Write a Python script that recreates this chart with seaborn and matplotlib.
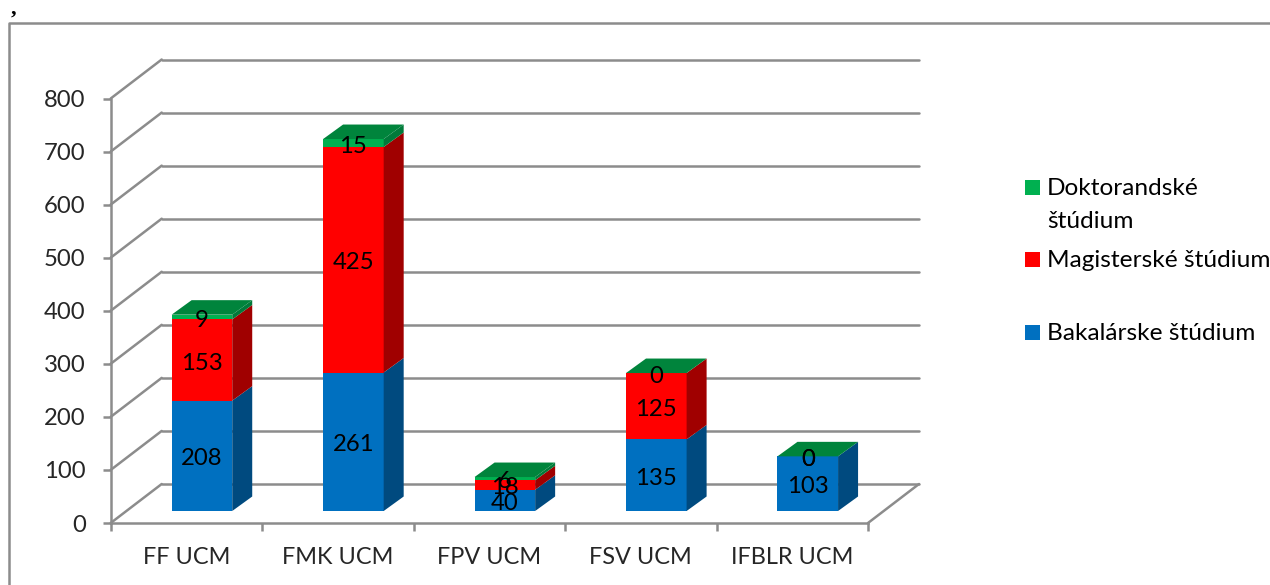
import matplotlib
matplotlib.use("Agg")
import matplotlib.pyplot as plt
from matplotlib.lines import Line2D
from matplotlib.patches import Rectangle
from matplotlib.transforms import ScaledTranslation
import numpy as np
import seaborn as sns

categories = ["FF UCM", "FMK UCM", "FPV UCM", "FSV UCM", "IFBLR UCM"]
bakalarske = [208, 261, 40, 135, 103]
magisterske = [153, 425, 18, 125, 0]
doktorandske = [9, 15, 6, 0, 0]
y_ticks = [0, 100, 200, 300, 400, 500, 600, 700, 800]
legend_labels = ["Doktorandské\nštúdium", "Magisterské štúdium", "Bakalárske štúdium"]

W, H = 1270, 585
GREY = "#8c8c8c"
BLUE, RED, GREEN = "#0070c0", "#ff0000", "#00b050"
BLUE_SIDE, RED_SIDE, GREEN_SIDE, GREEN_TOP = "#004a7f", "#a00000", "#007a3a", "#00843c"
FS = 17.2
LW = 1.8

sns.set_style("white")
plt.rcParams["font.family"] = ["Lato", "DejaVu Sans"]

fig = plt.figure(figsize=(W / 100, H / 100), dpi=100, facecolor="white")
# axis box in pixels of the picture
left, right, top, bottom = 110.7, 868, 98.5, 523
ax = fig.add_axes([left / W, 1 - bottom / H, (right - left) / W, (bottom - top) / H])
ax.patch.set_alpha(0)


def shifted(px, py):
    return ax.transData + ScaledTranslation(px / 100, py / 100, fig.dpi_scale_trans)


px_x = 5 / (right - left)
px_y = 800 / (bottom - top)

blue = np.array(bakalarske)
red = blue + np.array(magisterske)
green = red + np.array(doktorandske)

# stacked front faces, tallest first
bar_tf = shifted(15.5, 12)
for totals, color in [(green, GREEN), (red, RED), (blue, BLUE)]:
    sns.barplot(x=categories, y=totals, color=color, saturation=1, width=0.4,
                errorbar=None, linewidth=0, ax=ax, zorder=4)
    for bar in ax.containers[-1]:
        bar.set_transform(bar_tf)
        bar.set_clip_on(False)

# side and top faces of the bars
dx, dy = 20 * px_x, 14.5 * px_y
for i in range(len(categories)):
    x1 = i + 0.2
    x0 = i - 0.2
    for lo, hi, color in [(0, blue[i], BLUE_SIDE), (blue[i], red[i], RED_SIDE), (red[i], green[i], GREEN_SIDE)]:
        ax.fill([x1, x1 + dx, x1 + dx, x1], [lo, lo + dy, hi + dy, hi], color=color, lw=0,
                transform=bar_tf, clip_on=False, zorder=4)
    ax.fill([x0, x1, x1 + dx, x0 + dx], [green[i], green[i], green[i] + dy, green[i] + dy],
            color=GREEN_TOP, lw=0, transform=bar_tf, clip_on=False, zorder=4)

# value labels, the zeros stay too as in the original
label_tf = shifted(15.5, 9)
for i in range(len(categories)):
    segments = [(0, blue[i], bakalarske[i]), (blue[i], red[i], magisterske[i]), (red[i], green[i], doktorandske[i])]
    for lo, hi, value in segments:
        ax.text(i, (lo + hi) / 2, str(value), ha="center", va="center", fontsize=FS, color="black",
                transform=label_tf, zorder=6)

# back wall gridlines and floor
back_tf = shifted(51, 39)
for v in y_ticks:
    ax.plot([-0.5, 4.5], [v, v], color=GREY, lw=LW, transform=back_tf, clip_on=False, zorder=1)
    x_data = [-0.5, -0.5 + 51 * px_x]
    y_data = [v, v + 39 * px_y]
    ax.plot(x_data, y_data, color=GREY, lw=LW, clip_on=False, zorder=1)
ax.plot([4.5, 4.5 + 51 * px_x], [0, 39 * px_y], color=GREY, lw=LW, clip_on=False, zorder=1)

ax.set_xlim(-0.5, 4.5)
ax.set_ylim(0, 800)
ax.set_yticks(y_ticks)
ax.set_xticks(range(len(categories)))
ax.set_xticklabels(categories)
ax.set_xticks(np.arange(-0.5, 5), minor=True)
ax.tick_params(axis="y", length=6, width=LW, color=GREY, pad=12, labelsize=FS, left=True)
ax.tick_params(axis="x", which="major", length=0, pad=17, labelsize=16.9)
ax.tick_params(axis="x", which="minor", length=6, width=LW, color=GREY, bottom=True)
ax.set_xlabel("")
ax.set_ylabel("")
for side in ["top", "right"]:
    ax.spines[side].set_visible(False)
for side in ["left", "bottom"]:
    ax.spines[side].set_color(GREY)
    ax.spines[side].set_linewidth(LW)
    ax.spines[side].set_zorder(2)

# outer frame of the embedded chart
fig.add_artist(Line2D([9 / W, 9 / W, 1], [0, 1 - 23 / H, 1 - 23 / H], color=GREY, lw=LW))
fig.text(11 / W, 1 - 14 / H, ",", family="Liberation Serif", fontsize=16, fontweight="bold", color="black")

# legend
legend_rows = [(187.5, GREEN), (259.5, RED), (332.5, BLUE)]
for (y, color), label in zip(legend_rows, legend_labels):
    fig.add_artist(Rectangle((1025 / W, 1 - (y + 7.5) / H), 15 / W, 15 / H, color=color, lw=0,
                             transform=fig.transFigure))
    fig.text(1047 / W, 1 - (y - 9.5) / H, label, fontsize=17.6, color="black", va="top", linespacing=1.7)

fig.savefig("out.png", dpi=100, facecolor="white")
